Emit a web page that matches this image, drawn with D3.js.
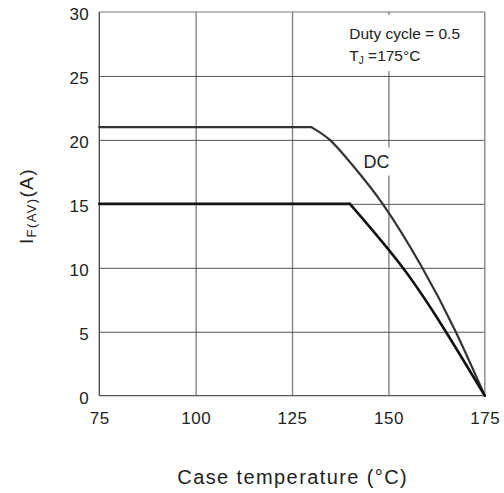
<!DOCTYPE html>
<html>
<head>
<meta charset="utf-8">
<script src="https://cdn.jsdelivr.net/npm/d3@7"></script>
<style>
  body { margin: 0; background: #fff; }
  svg text { font-family: "Liberation Sans", Arial, sans-serif; fill: #222; }
</style>
</head>
<body>
<div id="chart"></div>
<script>
// data
var xTicks = [75, 100, 125, 150, 175];
var yTicks = [0, 5, 10, 15, 20, 25, 30];

var dcTemp = [75, 130, 134.8, 140.2, 148.5, 158.6, 167.3, 175];
var dcCurrent = [21, 21, 20, 18.2, 15, 10.1, 5.1, 0];

var dutyTemp = [75, 140, 153.5, 164.7, 175];
var dutyCurrent = [15, 15, 10.1, 5.1, 0];

var svgWidth = 504;
var svgHeight = 493;
var margin = { top: 12, right: 19.2, bottom: 97.3, left: 99.3 };
var width = svgWidth - margin.left - margin.right;
var height = svgHeight - margin.top - margin.bottom;

var svg = d3.select("#chart")
  .append("svg")
  .attr("width", svgWidth)
  .attr("height", svgHeight);

var chartGroup = svg.append("g")
  .attr("transform", `translate(${margin.left}, ${margin.top})`);

var x = d3.scaleLinear().domain([75, 175]).range([0, width]);
var y = d3.scaleLinear().domain([0, 30]).range([height, 0]);

// vertical grid
var xGrid = chartGroup.append("g")
  .attr("transform", `translate(0, ${height})`)
  .call(d3.axisBottom(x).tickValues([100, 125, 150]).tickSize(-height).tickFormat(""));
xGrid.select(".domain").remove();
xGrid.selectAll("line").attr("stroke", "#858585").attr("stroke-width", 1.4);

// horizontal grid
var yGrid = chartGroup.append("g")
  .call(d3.axisLeft(y).tickValues([5, 10, 15, 20, 25]).tickSize(-width).tickFormat(""));
yGrid.select(".domain").remove();
yGrid.selectAll("line").attr("stroke", "#555").attr("stroke-width", 1);

// frame
chartGroup.append("line").attr("x1", 0).attr("x2", width).attr("y1", 0).attr("y2", 0)
  .attr("stroke", "#777").attr("stroke-width", 1.2);
chartGroup.append("line").attr("x1", width).attr("x2", width).attr("y1", 0).attr("y2", height)
  .attr("stroke", "#858585").attr("stroke-width", 1.4);
chartGroup.append("line").attr("x1", 0).attr("x2", 0).attr("y1", 0).attr("y2", height)
  .attr("stroke", "#444").attr("stroke-width", 1.3);
chartGroup.append("line").attr("x1", 0).attr("x2", width).attr("y1", height).attr("y2", height)
  .attr("stroke", "#555").attr("stroke-width", 1.3);

// white boxes behind the labels
chartGroup.append("rect")
  .attr("x", x(150) - 44).attr("y", 3).attr("width", 130).attr("height", 56)
  .attr("fill", "#fff");
chartGroup.append("rect")
  .attr("x", x(150) - 23).attr("y", y(19.4)).attr("width", 30).attr("height", 28)
  .attr("fill", "#fff");

// tick labels
var xAxis = chartGroup.append("g")
  .attr("transform", `translate(0, ${height})`)
  .call(d3.axisBottom(x).tickValues(xTicks).tickSize(0).tickPadding(16));
xAxis.select(".domain").remove();
xAxis.selectAll("text").attr("font-size", "17px").attr("letter-spacing", "0.5px")
  .attr("font-family", "Liberation Sans, Arial, sans-serif").attr("fill", "#222");

var yAxis = chartGroup.append("g")
  .call(d3.axisLeft(y).tickValues(yTicks).tickSize(0).tickPadding(10));
yAxis.select(".domain").remove();
yAxis.selectAll("text").attr("font-size", "17px").attr("letter-spacing", "0.5px")
  .attr("dy", "0.45em")
  .attr("font-family", "Liberation Sans, Arial, sans-serif").attr("fill", "#222");

// curves: flat part straight, falling part smooth
var flatLine = d3.line().x(d => x(d[0])).y(d => y(d[1]));
var fallLine = d3.line().x(d => x(d[0])).y(d => y(d[1])).curve(d3.curveNatural);

function drawCurve(temps, currents, color, strokeWidth) {
  var pts = temps.map((t, i) => [t, currents[i]]);
  chartGroup.append("path")
    .datum(pts.slice(0, 2))
    .attr("d", flatLine)
    .attr("fill", "none")
    .attr("stroke", color)
    .attr("stroke-width", strokeWidth)
    .attr("stroke-linecap", "round");
  chartGroup.append("path")
    .datum(pts.slice(1))
    .attr("d", fallLine)
    .attr("fill", "none")
    .attr("stroke", color)
    .attr("stroke-width", strokeWidth)
    .attr("stroke-linecap", "round");
}

drawCurve(dcTemp, dcCurrent, "#333", 2.2);
drawCurve(dutyTemp, dutyCurrent, "#111", 2.6);

// labels inside the plot
chartGroup.append("text")
  .attr("x", x(150) + 1).attr("y", y(19.4) + 20)
  .attr("text-anchor", "end")
  .attr("font-size", "18px")
  .text("DC");

chartGroup.append("text")
  .attr("x", 250).attr("y", 26.5)
  .attr("font-size", "15.5px")
  .text("Duty cycle = 0.5");

var tj = chartGroup.append("text")
  .attr("x", 250).attr("y", 49)
  .attr("font-size", "15.5px");
tj.append("tspan").text("T");
tj.append("tspan").attr("font-size", "10px").attr("dy", "3").text("J");
tj.append("tspan").attr("dy", "-3").text(" =175°C");

// axis titles
svg.append("text")
  .attr("x", 292.7).attr("y", 484)
  .attr("text-anchor", "middle")
  .attr("font-size", "20px")
  .attr("letter-spacing", "1.4px")
  .text("Case temperature (°C)");

var yTitle = svg.append("text")
  .attr("transform", "translate(33, 206) rotate(-90)")
  .attr("text-anchor", "middle")
  .attr("font-size", "19px")
  .attr("letter-spacing", "1.4px");
yTitle.append("tspan").text("I");
yTitle.append("tspan").attr("font-size", "13px").attr("dy", "3").text("F(AV)");
yTitle.append("tspan").attr("dy", "-3").text("(A)");
</script>
</body>
</html>
